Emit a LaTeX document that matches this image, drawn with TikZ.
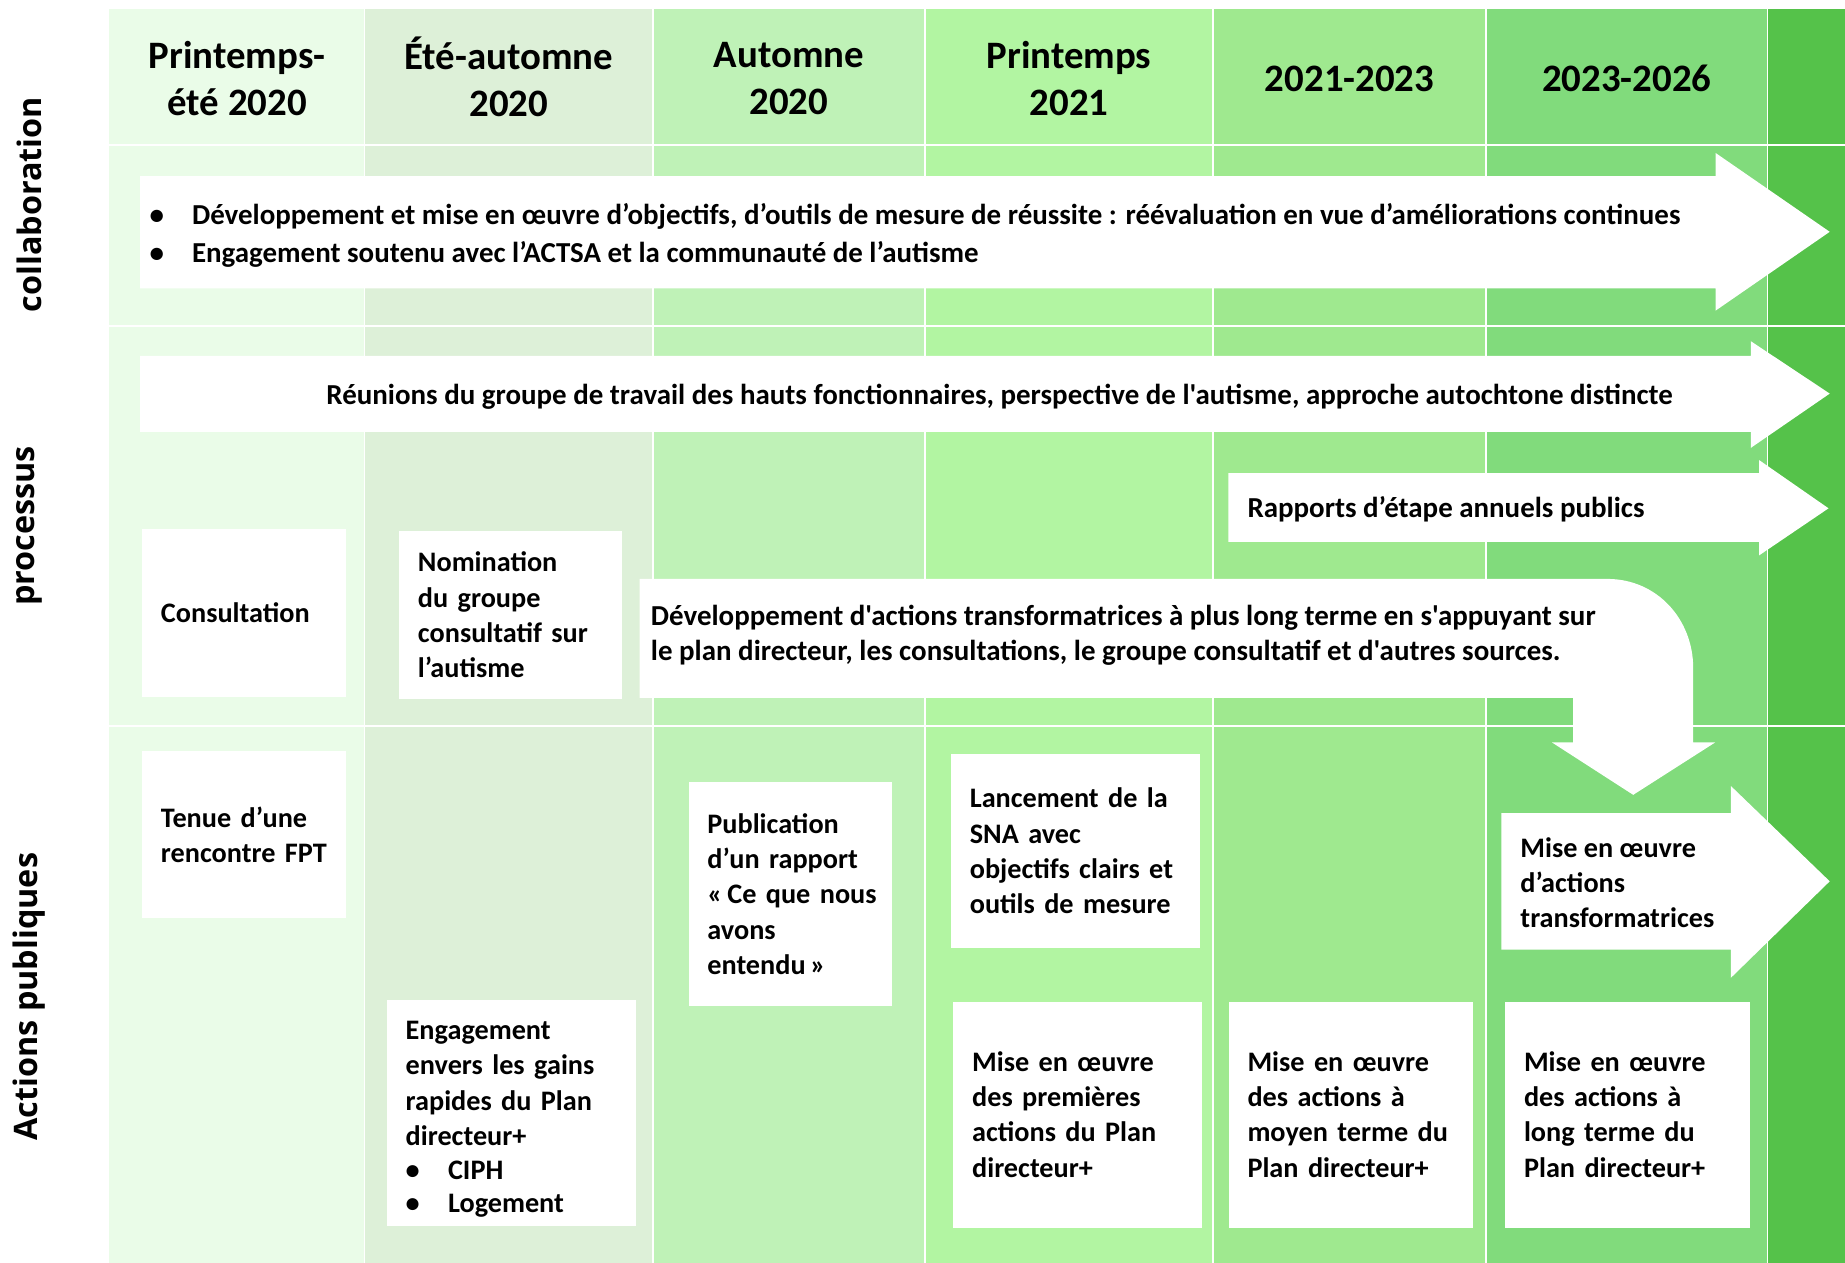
\documentclass[tikz,border=0pt]{standalone}
\usepackage{fontspec}
\setmainfont{Carlito}[Ligatures=TeXOff]
\newfontfamily\labfont{Open Sans}
\definecolor{cA}{RGB}{234,252,232}
\definecolor{cB}{RGB}{221,240,216}
\definecolor{cC}{RGB}{191,242,183}
\definecolor{cD}{RGB}{178,245,162}
\definecolor{cE}{RGB}{159,233,143}
\definecolor{cF}{RGB}{129,219,124}
\definecolor{cG}{RGB}{85,194,74}
\begin{document}
\begin{tikzpicture}[x=1pt,y=-1pt,
  body/.style={font=\bfseries\fontsize{24}{30}\selectfont},
  box/.style={body, fill=white, draw=none, inner xsep=16pt, inner ysep=0pt, align=left, anchor=north west},
  head/.style={font=\bfseries\fontsize{33}{40}\selectfont, align=center, inner sep=0pt},
  side/.style={font=\labfont\bfseries\fontsize{27.5}{30}\selectfont, rotate=90, inner sep=0pt},
  plain/.style={inner sep=0pt, align=left, font=\bfseries\fontsize{24.6}{30}\selectfont},
  warrow/.style={fill=white, draw=none},
  sep/.style={draw=white}
]
\useasboundingbox (0,0) rectangle (1568,1073);
\fill[white] (0,0) rectangle (1568,1073);
% columns
\fill[cA] (93,8) rectangle (310,1073);
\fill[cB] (310,8) rectangle (555,1073);
\fill[cC] (555,8) rectangle (786,1073);
\fill[cD] (786,8) rectangle (1031,1073);
\fill[cE] (1031,8) rectangle (1263,1073);
\fill[cF] (1263,8) rectangle (1502,1073);
\fill[cG] (1502,8) rectangle (1568,1073);
% separators
\foreach \xx in {310,555,786,1031,1263,1502} \draw[sep, line width=1.2pt] (\xx,8) -- (\xx,1073);
\foreach \yy in {123,277,617} \draw[sep, line width=2pt] (93,\yy) -- (1568,\yy);
% headers
\node[head] (h1) at (201.5,67) {Printemps-\\été 2020};
\node[head] (h2) at (432.5,65) {Été-automne\\2020};
\node[head] (h3) at (670.5,67) {Automne\\2020};
\node[head] (h4) at (908.5,67) {Printemps\\2021};
\node[head] (h5) at (1147,67) {2021-2023};
\node[head] (h6) at (1382.5,67) {2023-2026};
% side labels
\node[side] (lcollab) at (25,174) {collaboration};
\node[side] (lproc) at (25,447) {processus};
\node[side] (lact) at (25,847) {Actions publiques};
% arrows
\fill[warrow] (119,149.6) -- (1458,149.6) -- (1458,130) -- (1555,197) -- (1458,264) -- (1458,245) -- (119,245) -- cycle;
\fill[warrow] (119,302.5) -- (1488,302.5) -- (1488,290) -- (1555,334.5) -- (1488,380.6) -- (1488,367) -- (119,367) -- cycle;
\fill[warrow] (1044,402) -- (1495,402) -- (1495,391) -- (1554,432) -- (1495,472) -- (1495,460.6) -- (1044,460.6) -- cycle;
\fill[warrow] (543.5,492) -- (1366,492) .. controls (1408,492) and (1439,526) .. (1439,568) -- (1439,631) -- (1457.6,631) -- (1388,675.5) -- (1319,631) -- (1337,631) -- (1337,593) -- (543.5,593) -- cycle;
\fill[warrow] (1276,691) -- (1471,691) -- (1471,668) -- (1555,749) -- (1471,831) -- (1471,807) -- (1276,807) -- cycle;
% arrow texts
\node[plain, anchor=west, font=\bfseries\fontsize{24.6}{32}\selectfont] (tcollab) at (127,200) {\makebox[36pt][l]{•}Développement et mise en œuvre d’objectifs, d’outils de mesure de réussite : réévaluation en vue d’améliorations continues\\\makebox[36pt][l]{•}Engagement soutenu avec l’ACTSA et la communauté de l’autisme};
\node[plain] (treun) at (849.5,337) {Réunions du groupe de travail des hauts fonctionnaires, perspective de l'autisme, approche autochtone distincte};
\node[plain, anchor=west] (trapp) at (1060,433) {Rapports d’étape annuels publics};
\node[plain, anchor=west] (tdev) at (553,540) {Développement d'actions transformatrices à plus long terme en s'appuyant sur\\le plan directeur, les consultations, le groupe consultatif et d'autres sources.};
\node[plain, anchor=west, body] (ttransf) at (1292,750) {Mise en œuvre\\d’actions\\transformatrices};
% boxes
\node[box, minimum width=173.4pt, minimum height=142.4pt, text width=141.4pt] (cons) at (120.6,449.6) {Consultation};
\node[box, minimum width=189pt, minimum height=143pt, text width=157pt] (nomi) at (339,451) {Nomination\\du groupe\\\mbox{consultatif sur}\\l’autisme};
\node[box, minimum width=173.4pt, minimum height=142pt, text width=141.4pt] (tenue) at (120.6,638) {Tenue d’une\\rencontre FPT};
\node[box, minimum width=211.4pt, minimum height=191.5pt, text width=179.4pt] (engag) at (328.6,850) {\rule{0pt}{26pt}Engagement\\envers les gains\\rapides du Plan\\directeur+\\[-1pt]\makebox[36pt][l]{•}CIPH\\[-2pt]\makebox[36pt][l]{•}Logement};
\node[box, minimum width=173pt, minimum height=191pt, text width=141pt] (publi) at (585,664) {Publication\\d’un rapport\\\mbox{«\hspace{4pt}Ce que nous}\\avons\\entendu\hspace{4pt}»};
\node[box, minimum width=212pt, minimum height=165pt, text width=180pt] (lanc) at (808,640.5) {Lancement de la\\SNA avec\\\mbox{objectifs clairs et}\\outils de mesure};
\node[box, minimum width=211.6pt, minimum height=192pt, text width=179.6pt] (mise1) at (810,851) {Mise en œuvre\\des premières\\actions du Plan\\directeur+};
\node[box, minimum width=208pt, minimum height=192pt, text width=176pt] (mise2) at (1044,851) {Mise en œuvre\\des actions à\\\mbox{moyen terme du}\\Plan directeur+};
\node[box, minimum width=208pt, minimum height=192pt, text width=176pt] (mise3) at (1279,851) {Mise en œuvre\\des actions à\\long terme du\\Plan directeur+};
\end{tikzpicture}
\end{document}
